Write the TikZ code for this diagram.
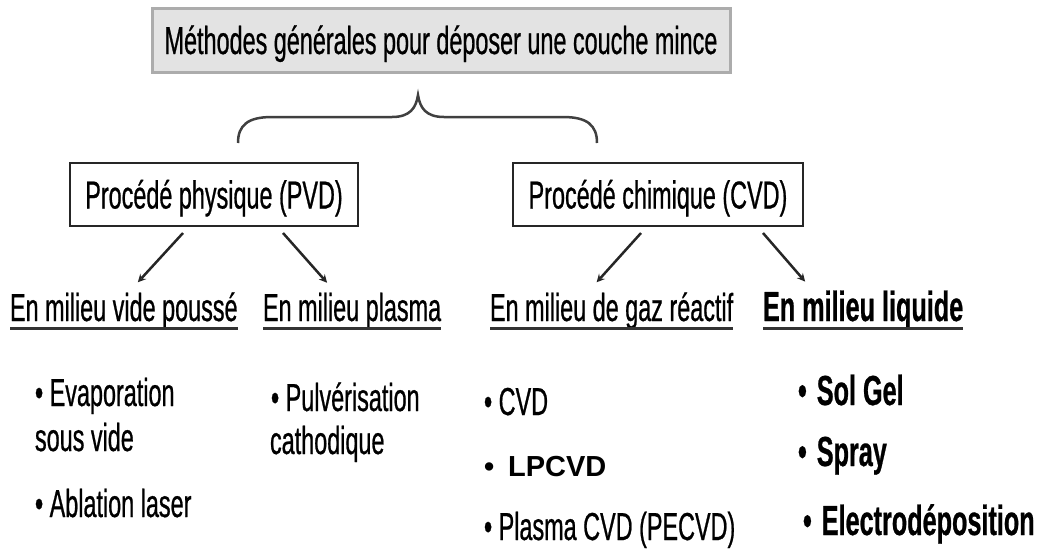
\documentclass[tikz,border=0pt]{standalone}
\usepackage{fontspec}
\setmainfont{Liberation Sans}[FakeStretch=0.6, FakeBold=0.6]
\newfontfamily\plainsans{Liberation Sans}
\begin{document}
\begin{tikzpicture}[x=1pt, y=-1pt,
  every node/.style={inner sep=0pt, outer sep=0pt, anchor=base west, font=\fontsize{39}{44}\selectfont},
  titre/.style={draw=gray!65, fill=gray!22, line width=3pt, anchor=center, text height=28pt, text depth=0pt},
  procede/.style={draw=black!85, fill=white, line width=2.5pt, anchor=center, text height=28pt, text depth=0pt, minimum height=63pt},
  fleche/.style={->, >=stealth, line width=2.5pt, black!85},
  souligne/.style={line width=3pt, black!80},
  gras/.style={font=\fontsize{42}{46}\selectfont\bfseries}]

  \useasboundingbox (0,0) rectangle (1044,550);

  % titre et accolade
  \node[titre, minimum width=578pt, minimum height=64pt] (titre) at (441,40) {Méthodes générales pour déposer une couche mince};
  \draw[line width=2.5pt, black!75] (238,143) .. controls (238,125) and (248,117) .. (272,117) -- (392,117) .. controls (410,117) and (416,108) .. (418,95) .. controls (420,108) and (426,117) .. (444,117) -- (563,117) .. controls (587,117) and (597,125) .. (597,143);

  % les deux procedes
  \node[procede, minimum width=288pt] (pvd) at (214,194.5) {Procédé physique (PVD)};
  \node[procede, minimum width=290pt] (cvd) at (658,194.5) {Procédé chimique (CVD)};

  % milieux
  \node (vide) at (10,321) {En milieu vide poussé};
  \node (plasma) at (263,321) {En milieu plasma};
  \node (gaz) at (490,321) {En milieu de gaz réactif};
  \node[gras] (liquide) at (763,321) {En milieu liquide};
  \foreach \m in {vide, plasma, gaz, liquide}
    \draw[souligne] ([yshift=-7pt]\m.base west) -- ([yshift=-7pt]\m.base east);

  \draw[fleche] ([xshift=-31pt, yshift=-7pt]pvd.south) -- ([xshift=14pt, yshift=10pt]vide.north);
  \draw[fleche] ([xshift=69pt, yshift=-7pt]pvd.south) -- ([xshift=-25pt, yshift=10pt]plasma.north);
  \draw[fleche] ([xshift=-17pt, yshift=-7pt]cvd.south) -- ([xshift=-15pt, yshift=10pt]gaz.north);
  \draw[fleche] ([xshift=105pt, yshift=-7pt]cvd.south) -- ([xshift=-58pt, yshift=9pt]liquide.north);

  % methodes
  \node (evap) at (35,406) {• Evaporation};
  \node (evapb) at (35,451) {sous vide};
  \node (abla) at (35,517) {• Ablation laser};
  \node (pulv) at (271,411) {• Pulvérisation};
  \node (pulvb) at (270,454) {cathodique};
  \node (cvdi) at (484,415) {• CVD};
  \node[font=\plainsans\fontsize{29}{32}\selectfont\bfseries] (lpcvd) at (484,476) {•\hspace{14pt}LPCVD};
  \node (pecvd) at (484,540) {• Plasma CVD (PECVD)};
  \node[gras] (sol) at (798,405) {•\hspace{10pt}Sol Gel};
  \node[gras] (spray) at (798,466) {•\hspace{10pt}Spray};
  \node[gras] (electro) at (803,535) {•\hspace{10pt}Electrodéposition};
\end{tikzpicture}
\end{document}
